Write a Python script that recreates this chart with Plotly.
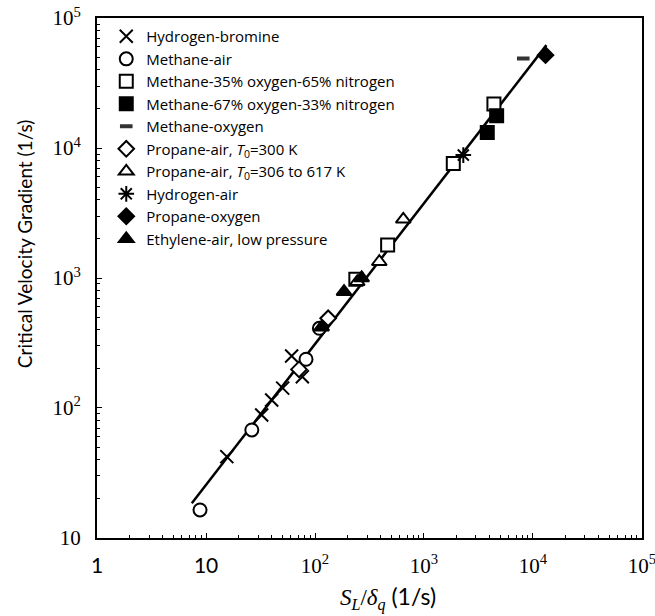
import plotly.graph_objects as go

# Measured burner-stability data: S_L/delta_q (1/s) vs critical velocity gradient (1/s)
h2_br_x = [15.5, 32.4, 40, 50.5, 61, 76.5]
h2_br_y = [42.2, 88.3, 115, 142, 251, 174]

ch4_air_x = [8.8, 26.3, 82.7, 109.6]
ch4_air_y = [16.4, 67.7, 237, 410]

ch4_o35_x = [237, 464, 1858, 4385]
ch4_o35_y = [980, 1795, 7620, 21800]

ch4_o67_x = [3810, 4645]
ch4_o67_y = [13200, 17700]

ch4_o2_x = [8150]
ch4_o2_y = [48900]

c3_air300_x = [71.3, 132]
c3_air300_y = [198, 490]

c3_airT_x = [244, 389, 646]
c3_airT_y = [935, 1334, 2831]

h2_air_x = [2296]
h2_air_y = [8830]

c3_o2_x = [13060]
c3_o2_y = [51900]

c2h4_x = [115, 184.6, 268]
c2h4_y = [418, 785, 1000]

# correlation line end points
fit_x = [7.4, 13300]
fit_y = [18.5, 62000]

tick_vals = [1, 10, 100, 1000, 10000, 100000]
x_tick_text = ['<span style="font-family:Lato">1</span>',
               '<span style="font-family:Lato">10</span>',
               '10<sup>2</sup>', '10<sup>3</sup>', '10<sup>4</sup>', '10<sup>5</sup>']
y_tick_vals = [10, 100, 1000, 10000, 100000]
y_tick_text = ['10', '10<sup>2</sup>', '10<sup>3</sup>', '10<sup>4</sup>', '10<sup>5</sup>']

# minor tick positions: 2..9 in every decade
minor_x = [m * 10 ** d for d in range(0, 5) for m in range(2, 10)]
minor_y = [m * 10 ** d for d in range(1, 5) for m in range(2, 10)]

fig = go.Figure()

fig.add_trace(go.Scatter(x=fit_x, y=fit_y, mode='lines',
                         line=dict(color='black', width=2.5), showlegend=False))

OUT = dict(color='black', width=2)

series = [
    ('Hydrogen-bromine', h2_br_x, h2_br_y,
     dict(symbol='x-thin-open', size=13, color='black', line=dict(color='black', width=2))),
    ('Methane-air', ch4_air_x, ch4_air_y,
     dict(symbol='circle', size=13, color='white', line=OUT)),
    ('Methane-35% oxygen-65% nitrogen', ch4_o35_x, ch4_o35_y,
     dict(symbol='square', size=13, color='white', line=OUT)),
    ('Methane-67% oxygen-33% nitrogen', ch4_o67_x, ch4_o67_y,
     dict(symbol='square', size=13, color='black', line=OUT)),
    ('Methane-oxygen', ch4_o2_x, ch4_o2_y,
     dict(symbol='line-ew-open', size=9, color='#333', line=dict(color='#333', width=4))),
    ('Propane-air, <i>T</i><sub>0</sub>=300 K', c3_air300_x, c3_air300_y,
     dict(symbol='diamond', size=12, color='white', line=OUT)),
    ('Propane-air, <i>T</i><sub>0</sub>=306 to 617 K', c3_airT_x, c3_airT_y,
     dict(symbol='triangle-up', size=13, color='white', line=OUT)),
    ('Hydrogen-air', h2_air_x, h2_air_y,
     dict(symbol='asterisk-open', size=13, color='black', line=dict(color='black', width=2))),
    ('Propane-oxygen', c3_o2_x, c3_o2_y,
     dict(symbol='diamond', size=12, color='black', line=OUT)),
    ('Ethylene-air, low pressure', c2h4_x, c2h4_y,
     dict(symbol='triangle-up', size=13, color='black', line=OUT)),
]

for name, xs, ys, mk in series:
    fig.add_trace(go.Scatter(x=xs, y=ys, mode='markers', name=name, marker=mk))

axis_common = dict(
    type='log', showgrid=False, zeroline=False, automargin=False,
    showline=True, linecolor='black', linewidth=2, mirror=True,
    ticks='inside', ticklen=5, tickwidth=1, tickcolor='black',
    tickmode='array', ticklabeloverflow='allow',
    tickfont=dict(family='Liberation Serif', size=21, color='black'),
)

fig.update_xaxes(**axis_common, range=[-0.001, 5.001], tickvals=tick_vals,
                 ticktext=x_tick_text, ticklabelstandoff=8,
                 minor=dict(tickmode='array', tickvals=minor_x, ticks='inside',
                            ticklen=3, tickwidth=1, tickcolor='black', showgrid=False))
fig.update_yaxes(**axis_common, range=[0.999, 5.001], tickvals=y_tick_vals,
                 ticktext=y_tick_text, ticklabelstandoff=10,
                 minor=dict(tickmode='array', tickvals=minor_y, ticks='inside',
                            ticklen=3, tickwidth=1, tickcolor='black', showgrid=False))

fig.add_annotation(text='Critical Velocity Gradient (1/s)', textangle=-90,
                   xref='paper', yref='paper', x=-0.134, y=0.567,
                   xanchor='center', yanchor='middle',
                   showarrow=False, font=dict(family='Lato', size=19, color='black'))
fig.add_annotation(text='<span style="font-family:Liberation Serif"><i>S</i><sub><i>L</i></sub>/<i>δ</i><sub><i>q</i></sub></span> (1/s)',
                   xref='paper', yref='paper', x=0.534, y=-0.115,
                   xanchor='center', yanchor='middle',
                   showarrow=False, font=dict(family='Lato', size=23, color='black'))

fig.update_layout(
    width=655, height=616,
    margin=dict(l=97, r=13, t=18, b=78),
    plot_bgcolor='white', paper_bgcolor='white',
    legend=dict(x=0.017, y=0.996, xanchor='left', yanchor='top',
                bgcolor='rgba(0,0,0,0)', borderwidth=0,
                font=dict(family='Open Sans', size=15, color='black')),
)

fig.write_html('out.html')
